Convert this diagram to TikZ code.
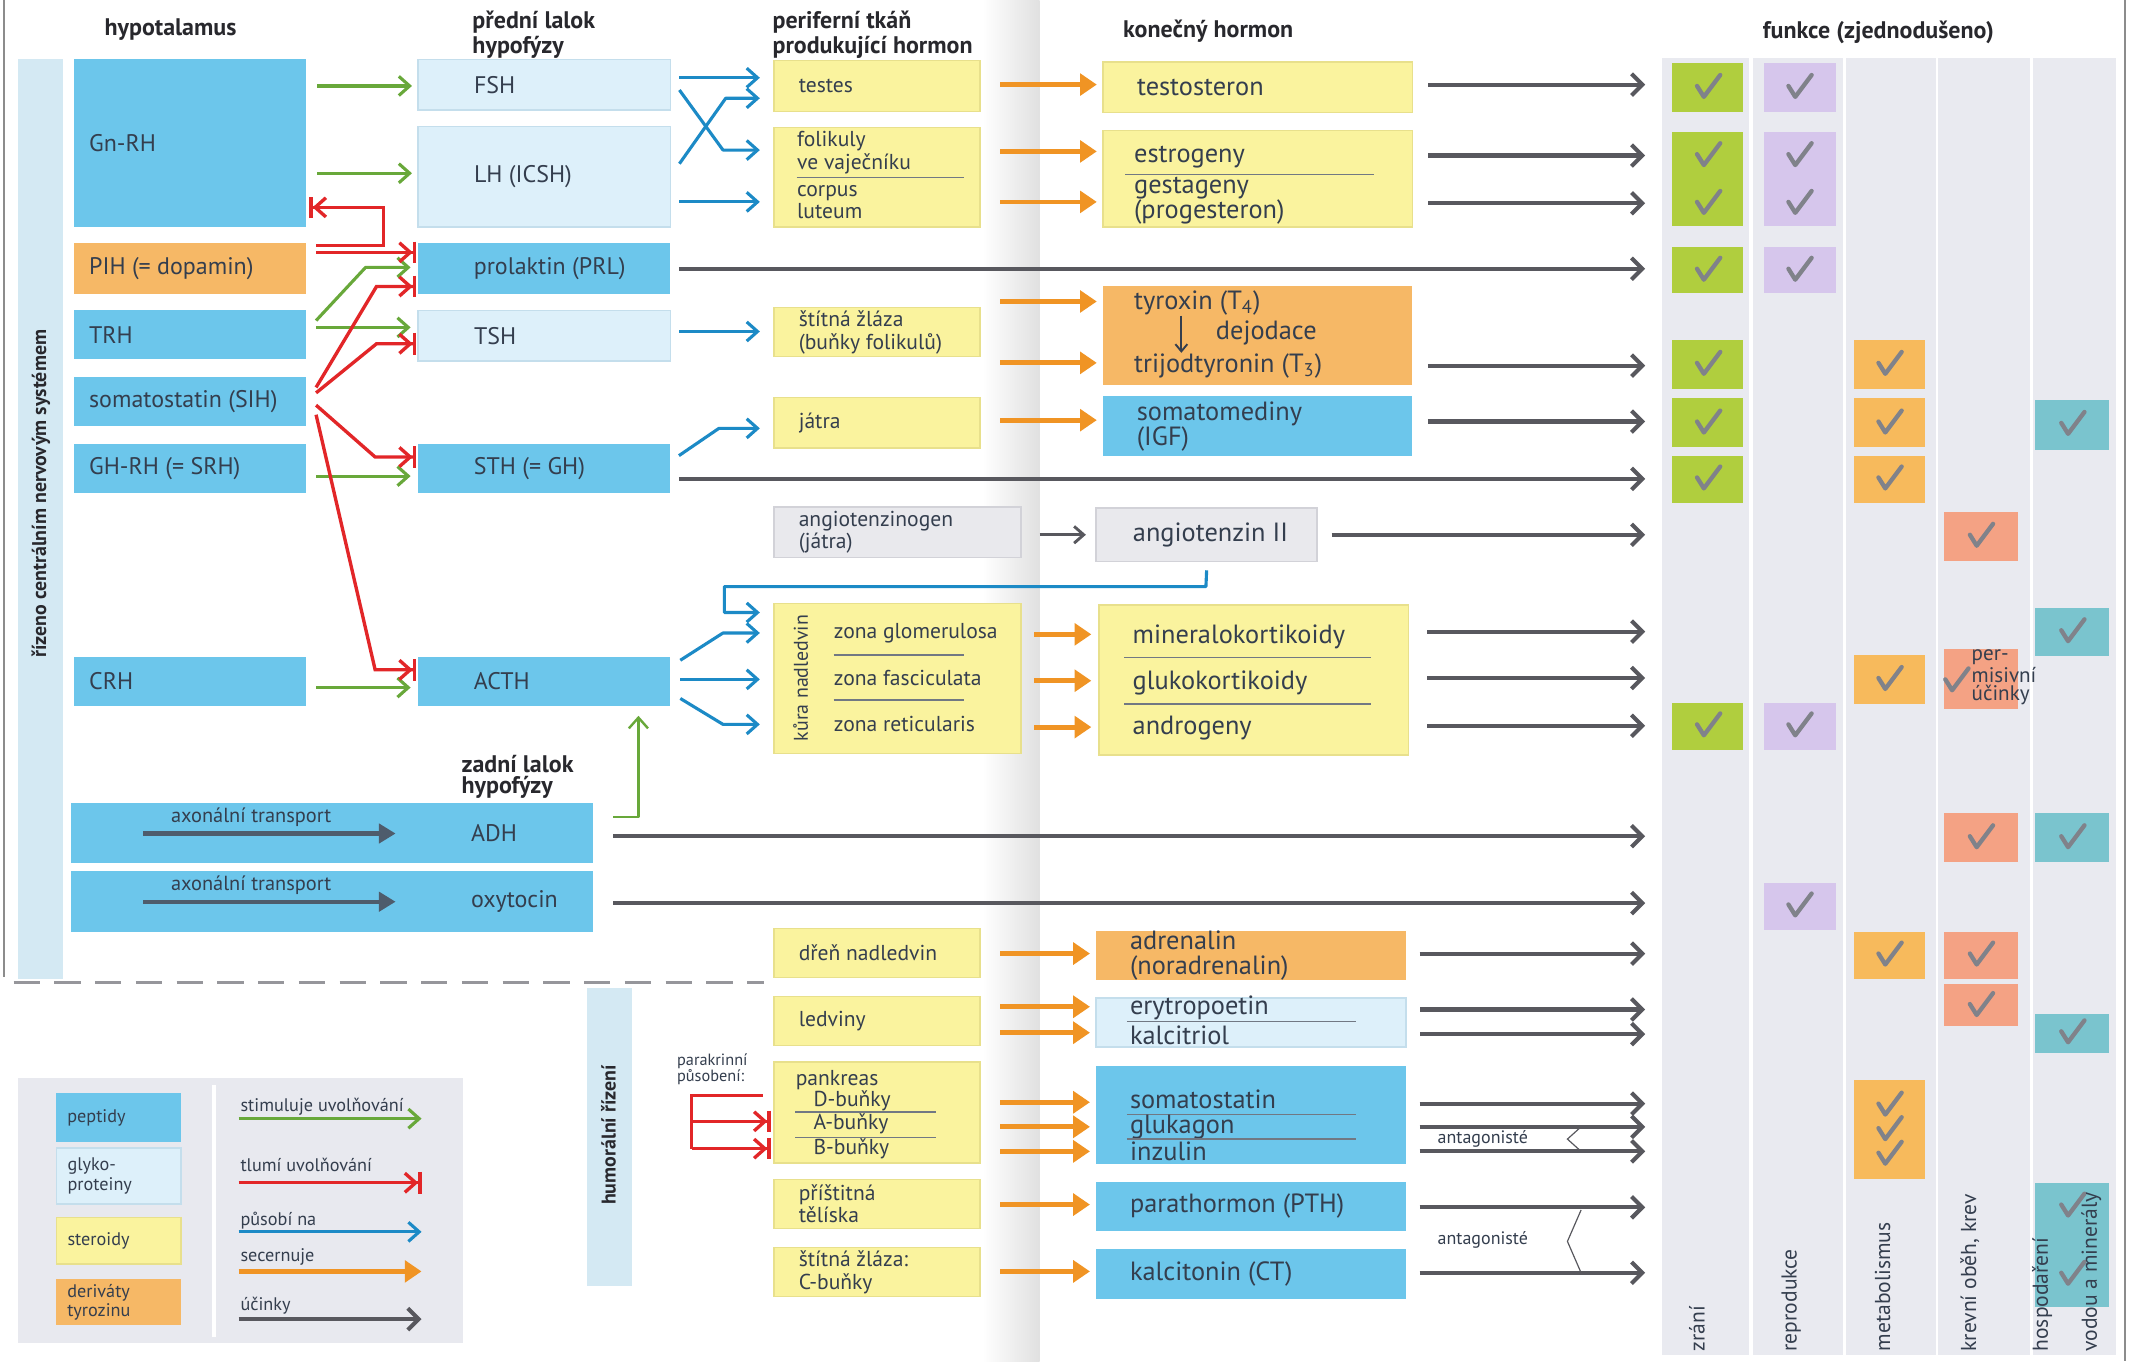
\documentclass[tikz,border=0pt]{standalone}
\usepackage{fontspec}
\setmainfont{PT Sans}
\usetikzlibrary{arrows.meta,calc}
\newlength\un
\setlength\un{0.02cm}
\definecolor{cPep}{RGB}{108,198,235}
\definecolor{cGly}{RGB}{221,240,250}
\definecolor{cGlyB}{RGB}{196,222,236}
\definecolor{cSte}{RGB}{250,243,158}
\definecolor{cSteB}{RGB}{232,224,140}
\definecolor{cTyr}{RGB}{246,184,102}
\definecolor{cGry}{RGB}{233,233,237}
\definecolor{cGryB}{RGB}{210,210,216}
\definecolor{cBand}{RGB}{212,233,243}
\definecolor{cLeg}{RGB}{232,233,239}
\definecolor{cCol}{RGB}{233,234,240}
\definecolor{cGrn}{RGB}{104,168,58}
\definecolor{cRed}{RGB}{226,38,40}
\definecolor{cBlu}{RGB}{28,138,198}
\definecolor{cOra}{RGB}{240,148,36}
\definecolor{cEff}{RGB}{88,88,94}
\definecolor{cAx}{RGB}{78,92,108}
\definecolor{cTxt}{RGB}{52,62,78}
\definecolor{cHdr}{RGB}{40,40,45}
\definecolor{cDash}{RGB}{150,150,155}
\definecolor{kGrn}{RGB}{176,206,62}
\definecolor{kPur}{RGB}{214,198,236}
\definecolor{kOra}{RGB}{247,186,92}
\definecolor{kSal}{RGB}{244,162,132}
\definecolor{kTea}{RGB}{122,196,206}
\definecolor{kChk}{RGB}{128,130,138}
\tikzset{
  bxbase/.style={rectangle, inner sep=0pt, text=cTxt},
  pep/.style={bxbase, fill=cPep},
  gly/.style={bxbase, fill=cGly, draw=cGlyB, line width=0.6pt},
  ste/.style={bxbase, fill=cSte, draw=cSteB, line width=0.6pt},
  tyr/.style={bxbase, fill=cTyr},
  gry/.style={bxbase, fill=cGry, draw=cGryB, line width=0.6pt},
  colbg/.style={rectangle, inner sep=0pt, fill=cCol},
  hf/.style={font=\fontsize{10}{11}\selectfont},
  pf/.style={font=\fontsize{9}{9.4}\selectfont, text=cTxt},
  ff/.style={font=\fontsize{11}{10.4}\selectfont, text=cTxt},
  lf/.style={font=\fontsize{7.6}{8}\selectfont, text=cTxt},
  colf/.style={font=\fontsize{9}{10}\selectfont, text=cTxt, inner sep=0pt, rotate=90, anchor=west},
  hdr/.style={font=\fontsize{10}{9}\selectfont\bfseries, text=cHdr, inner sep=0pt},
  bandtxt/.style={font=\fontsize{8.3}{9}\selectfont\bfseries, text=cHdr, inner sep=0pt, rotate=90},
  tx/.style={inner sep=0pt, anchor=west, align=left},
  sepl/.style={draw=cTxt!70, line width=0.6pt},
  stim/.style={draw=cGrn, line width=1.3pt, line join=round, -{Straight Barb[length=4.5pt,width=8pt]}},
  inh/.style={draw=cRed, line width=1.4pt, line join=miter, -{Straight Barb[length=4.5pt,width=8pt,sep=0pt]Bar[width=9pt,sep=0pt]}},
  redl/.style={draw=cRed, line width=1.4pt, line join=miter},
  act/.style={draw=cBlu, line width=1.3pt, line join=round, -{Straight Barb[length=4.5pt,width=8pt]}},
  sec/.style={draw=cOra, line width=2pt, -{Triangle[length=7pt,width=9pt]}},
  eff/.style={draw=cEff, line width=1.7pt, -{Straight Barb[length=4.5pt,width=9pt]}},
  gthin/.style={draw=cEff, line width=1.2pt, -{Straight Barb[length=4pt,width=7pt]}},
  axon/.style={draw=cAx, line width=1.8pt, -{Triangle[length=7pt,width=8pt]}},
  chkm/.style={draw=kChk, line width=1.8pt, line cap=round, line join=round},
}
\newcommand\bx[7]{\node[#1,anchor=north west,minimum width=#4\un,minimum height=#5\un,inner sep=0pt] (#2) at (#3) {\hspace*{#6\un}\parbox{\dimexpr#4\un-#6\un\relax}{\raggedright #7}};}
\newcommand\sq[5]{\fill[#1] (#2,#3) rectangle (#4,#5);}
\newcommand\chk[2]{\draw[chkm] (#1-8,#2-1) -- ++(5,8) -- ++(12,-16);}
\begin{document}
\begin{tikzpicture}[x=0.02cm,y=-0.02cm]
\useasboundingbox (0,0) rectangle (1568,998);
\fill[white] (0,0) rectangle (1568,998);
% gutter and page edges
\shade[left color=white, right color=black!12] (720,0) rectangle (762,998);
\draw[black!45, line width=0.6pt] (3,0) -- (3,716);
\draw[black!45, line width=0.8pt] (1558,0) -- (1558,998);
% function columns
\foreach \n/\x/\w in {cZ/1218/64, cR/1285/66, cM/1353/66, cK/1420/68, cH/1490/61}
  {\node[colbg, anchor=north west, minimum width=\w\un, minimum height=951\un] (\n) at (\x,42) {};}
% bands
\node[rectangle, fill=cBand, anchor=north west, minimum width=33\un, minimum height=674\un, inner sep=0pt] (bandC) at (13,43) {};
\node[bandtxt] (bandCt) at (30,362) {řízeno centrálním nervovým systémem};
\node[rectangle, fill=cBand, anchor=north west, minimum width=33\un, minimum height=218\un, inner sep=0pt] (bandH) at (430,724) {};
\node[bandtxt] (bandHt) at (446,832) {humorální řízení};
\draw[cDash, line width=1.2pt, dash pattern=on 11pt off 6pt] (10,720) -- (560,720);
% headers
\node[hdr] (hHyp) at (125,22) {hypotalamus};
\node[hdr, anchor=north west, align=left] (hPit) at (346,8) {přední lalok\\hypofýzy};
\node[hdr, anchor=north west, align=left] (hPer) at (566,8) {periferní tkáň\\produkující hormon};
\node[hdr, anchor=west] (hFin) at (823,23) {konečný hormon};
\node[hdr] (hFun) at (1377,24) {funkce (zjednodušeno)};
\node[hdr, anchor=north west, align=left] (hPost) at (338,553) {zadní lalok\\hypofýzy};
% hypothalamus
\bx{pep,hf}{gnrh}{54,43}{170}{123}{11}{Gn-RH}
\bx{tyr,hf}{pih}{54,178}{170}{37}{11}{PIH (= dopamin)}
\bx{pep,hf}{trh}{54,227}{170}{36}{11}{TRH}
\bx{pep,hf}{sih}{54,276}{170}{36}{11}{somatostatin (SIH)}
\bx{pep,hf}{ghrh}{54,325}{170}{36}{11}{GH-RH (= SRH)}
\bx{pep,hf}{crh}{54,481}{170}{36}{11}{CRH}
% pituitary
\bx{gly,hf}{fsh}{306,43}{185}{37}{41}{FSH}
\bx{gly,hf}{lh}{306,92}{185}{74}{41}{LH (ICSH)}
\bx{pep,hf}{prl}{306,178}{185}{37}{41}{prolaktin (PRL)}
\bx{gly,hf}{tsh}{306,227}{185}{37}{41}{TSH}
\bx{pep,hf}{sth}{306,325}{185}{36}{41}{STH (= GH)}
\bx{pep,hf}{acth}{306,481}{185}{36}{41}{ACTH}
\bx{pep,hf}{adh}{52,588}{382}{44}{293}{ADH}
\bx{pep,hf}{oxy}{52,638}{382}{45}{293}{oxytocin}
\node[lf, font=\fontsize{8.5}{9}\selectfont, anchor=west, inner sep=0pt] (axt1) at (125,599) {axonální transport};
\node[lf, font=\fontsize{8.5}{9}\selectfont, anchor=west, inner sep=0pt] (axt2) at (125,649) {axonální transport};
\coordinate (ax1a) at (105,611); \coordinate (ax1b) at (290,611);
\coordinate (ax2a) at (105,661); \coordinate (ax2b) at (290,661);
\draw[axon] (ax1a) -- (ax1b);
\draw[axon] (ax2a) -- (ax2b);
% peripheral tissues
\bx{ste,pf}{testes}{567,44}{151}{37}{18}{testes}
\node[ste, anchor=north west, minimum width=151\un, minimum height=73\un] (ovar) at (567,93) {};
\node[pf,tx] (folT) at (584,112) {folikuly\\ve vaječníku};
\draw[sepl] (584,130) -- (707,130);
\node[pf,tx] (corT) at (584,148) {corpus\\luteum};
\bx{ste,pf}{thy}{567,225}{151}{36}{18}{štítná žláza\\(buňky folikulů)}
\bx{ste,pf}{liver}{567,291}{151}{37}{18}{játra}
\bx{gry,pf}{agen}{567,371}{181}{37}{18}{angiotenzinogen\\(játra)}
\node[ste, anchor=north west, minimum width=181\un, minimum height=110\un] (kura) at (567,442) {};
\node[pf, rotate=90, inner sep=0pt, font=\fontsize{8.3}{9}\selectfont] (kuraT) at (587,497) {kůra nadledvin};
\node[pf,tx] (zg) at (611,464) {zona glomerulosa};
\draw[sepl] (611,480) -- (707,480);
\node[pf,tx] (zf) at (611,497) {zona fasciculata};
\draw[sepl] (611,513) -- (707,513);
\node[pf,tx] (zr) at (611,531) {zona reticularis};
\bx{ste,pf}{dren}{567,680}{151}{36}{18}{dřeň nadledvin}
\bx{ste,pf}{kid}{567,730}{151}{36}{18}{ledviny}
\node[ste, anchor=north west, minimum width=151\un, minimum height=74\un] (pank) at (567,778) {};
\node[pf,tx] (pkT) at (583,792) {pankreas};
\node[pf,tx] (pkD) at (596,807) {D-buňky};
\draw[sepl] (583,815) -- (686,815);
\node[pf,tx] (pkA) at (596,824) {A-buňky};
\draw[sepl] (583,834) -- (686,834);
\node[pf,tx] (pkB) at (596,842) {B-buňky};
\bx{ste,pf}{para}{567,864}{151}{36}{18}{příštitná\\tělíska}
\bx{ste,pf}{cthy}{567,914}{151}{36}{18}{štítná žláza:\\C-buňky}
\node[lf, anchor=north west, align=left, inner sep=0pt, font=\fontsize{6.8}{6.9}\selectfont] (parT) at (496,772) {parakrinní\\působení:};
% final hormones
\bx{ste,ff}{testo}{808,45}{227}{37}{25}{testosteron}
\node[ste, anchor=north west, minimum width=227\un, minimum height=71\un] (estr) at (808,95) {};
\node[ff,tx] (estT) at (831,115) {estrogeny};
\draw[sepl] (825,128) -- (1007,128);
\node[ff,tx] (gesT) at (831,147) {gestageny\\(progesteron)};
\node[tyr, anchor=north west, minimum width=227\un, minimum height=73\un] (thyr) at (808,209) {};
\node[ff,tx] (t4T) at (831,222) {tyroxin (T\textsubscript{4})};
\node[ff,tx] (dejT) at (891,244) {dejodace};
\node[ff,tx] (t3T) at (831,268) {trijodtyronin (T\textsubscript{3})};
\draw[draw=cTxt, line width=0.8pt, -{Straight Barb[length=3pt,width=5pt]}] (t4T.south west -| 866,0) -- (t3T.north west -| 866,0);
\bx{pep,ff}{igf}{808,290}{227}{44}{25}{somatomediny\\(IGF)}
\bx{gry,ff}{ang}{803,372}{162}{39}{27}{angiotenzin II}
\node[ste, anchor=north west, minimum width=227\un, minimum height=110\un] (cort) at (805,443) {};
\node[ff,tx] (mkT) at (830,467) {mineralokortikoidy};
\draw[sepl] (824,482) -- (1005,482);
\node[ff,tx] (gkT) at (830,501) {glukokortikoidy};
\draw[sepl] (824,516) -- (1005,516);
\node[ff,tx] (anT) at (830,534) {androgeny};
\bx{tyr,ff}{adr}{803,682}{227}{36}{25}{adrenalin\\(noradrenalin)}
\node[gly, anchor=north west, minimum width=227\un, minimum height=36\un] (ery) at (803,731) {};
\node[ff,tx] (eryT) at (828,739) {erytropoetin};
\draw[sepl] (826,749) -- (994,749);
\node[ff,tx] (kalT) at (828,759) {kalcitriol};
\node[pep, anchor=north west, minimum width=227\un, minimum height=72\un] (pan2) at (803,781) {};
\node[ff,tx] (soT) at (828,806) {somatostatin};
\draw[sepl] (826,817) -- (994,817);
\node[ff,tx] (glT) at (828,826) {glukagon};
\draw[sepl] (826,835) -- (994,835);
\node[ff,tx] (inT) at (828,844) {inzulin};
\bx{pep,ff}{pth}{803,866}{227}{36}{25}{parathormon (PTH)}
\bx{pep,ff}{ct}{803,915}{227}{37}{25}{kalcitonin (CT)}
% hypothalamus -> pituitary
\draw[stim] ($(gnrh.east|-0,63)+(8,0)$) -- ($(fsh.west|-0,63)+(-4,0)$);
\draw[stim] ($(gnrh.east|-0,127)+(8,0)$) -- ($(lh.west|-0,127)+(-4,0)$);
\draw[stim] ($(trh.east|-0,235)+(7,0)$) -- (268,196) -- ($(prl.west|-0,196)+(-5,0)$);
\draw[stim] ($(trh.east|-0,240)+(7,0)$) -- ($(tsh.west|-0,240)+(-5,0)$);
\draw[stim] ($(ghrh.east|-0,349)+(7,0)$) -- ($(sth.west|-0,349)+(-5,0)$);
\draw[stim] ($(crh.east|-0,504)+(7,0)$) -- ($(acth.west|-0,504)+(-5,0)$);
\draw[stim, line width=1pt] ($(adh.east|-0,599)+(15,0)$) -- (468,599) -- ($(acth.south-|468,0)+(0,7)$);
\draw[inh] ($(pih.east|-0,180)+(7,0)$) -- (281,180) -- (281,152) -- ($(gnrh.east|-0,152)+(2,0)$);
\draw[inh] ($(pih.east|-0,185)+(7,0)$) -- ($(prl.west|-0,185)+(-1,0)$);
\draw[inh] ($(sih.east|-0,284)+(7,0)$) -- (276,210) -- ($(prl.west|-0,210)+(-1,0)$);
\draw[inh] ($(sih.east|-0,288)+(7,0)$) -- (276,252) -- ($(tsh.west|-0,252)+(-1,0)$);
\draw[inh] ($(sih.east|-0,297)+(7,0)$) -- (275,335) -- ($(sth.west|-0,335)+(-1,0)$);
\draw[inh] ($(sih.east|-0,304)+(7,0)$) -- (275,491) -- ($(acth.west|-0,491)+(-1,0)$);
% pituitary -> tissues
\draw[act] ($(fsh.east|-0,57)+(6,0)$) -- ($(testes.west|-0,57)+(-10,0)$);
\draw[act] ($(fsh.east|-0,66)+(6,0)$) -- (530,110) -- ($(ovar.west|-0,110)+(-10,0)$);
\draw[act] ($(lh.east|-0,120)+(6,0)$) -- (532,72) -- ($(testes.west|-0,72)+(-10,0)$);
\draw[act] ($(lh.east|-0,148)+(6,0)$) -- ($(ovar.west|-0,148)+(-10,0)$);
\draw[act] ($(tsh.east|-0,243)+(6,0)$) -- ($(thy.west|-0,243)+(-10,0)$);
\draw[act] ($(sth.east|-0,334)+(6,0)$) -- (527,314) -- ($(liver.west|-0,314)+(-10,0)$);
\draw[act] ($(acth.east|-0,484)+(7,0)$) -- (530,464) -- ($(kura.west|-0,464)+(-10,0)$);
\draw[act] ($(acth.east|-0,498)+(7,0)$) -- ($(kura.west|-0,498)+(-10,0)$);
\draw[act] ($(acth.east|-0,512)+(7,0)$) -- (530,531) -- ($(kura.west|-0,531)+(-10,0)$);
\draw[act] ($(ang.south)+(0,6)$) -- (884,430) -- (531,430) -- (531,449) -- ($(kura.west|-0,449)+(-10,0)$);
% secretion
\foreach \a/\b/\y in {testes/testo/62, ovar/estr/111, ovar/estr/148, thy/thyr/221, thy/thyr/266, liver/igf/308, dren/adr/699, kid/ery/738, kid/ery/757, pank/pan2/808, pank/pan2/826, pank/pan2/844, para/pth/883, cthy/ct/932}
  {\draw[sec] ($(\a.east|-0,\y)+(14,0)$) -- ($(\b.west|-0,\y)+(-4,0)$);}
\foreach \y in {465,499,533}
  {\draw[sec] ($(kura.east|-0,\y)+(9,0)$) -- ($(cort.west|-0,\y)+(-5,0)$);}
\draw[gthin] ($(agen.east|-0,392)+(13,0)$) -- ($(ang.west|-0,392)+(-7,0)$);
% paracrine
\draw[redl] ($(pank.west|-0,803)+(-8,0)$) -- (507,803) -- (507,842);
\draw[inh] (507,822) -- ($(pank.west|-0,822)+(-2,0)$);
\draw[inh] (507,842) -- ($(pank.west|-0,842)+(-2,0)$);
% effects
\foreach \n/\y/\o in {testo/62/11, estr/114/11, estr/149/11, prl/197/6, thyr/268/11, igf/309/11, sth/351/6, ang/392/10, cort/463/13, cort/497/13, cort/532/13, adh/613/15, oxy/662/15, adr/699/10, ery/740/10, ery/758/10, pan2/809/10, pan2/826/10, pan2/844/10, pth/885/10, ct/933/10}
  {\draw[eff] ($(\n.east|-0,\y)+(\o,0)$) -- ($(cZ.west|-0,\y)+(-12,0)$);}
\node[lf, font=\fontsize{7.5}{8}\selectfont, inner sep=0pt] (ant1) at (1087,835) {antagonisté};
\node[lf, font=\fontsize{7.5}{8}\selectfont, inner sep=0pt] (ant2) at (1087,909) {antagonisté};
\draw[cEff, line width=0.5pt] (1159,826) -- (1149,835) -- (1159,844);
\draw[cEff, line width=0.5pt] (1159,887) -- (1149,910) -- (1159,933);
% function squares
\sq{kGrn}{1226}{46}{1278}{82} \sq{kPur}{1293}{46}{1346}{82}
\sq{kGrn}{1226}{97}{1278}{166} \sq{kPur}{1293}{97}{1346}{166}
\sq{kGrn}{1226}{181}{1278}{215} \sq{kPur}{1293}{181}{1346}{215}
\sq{kGrn}{1226}{249}{1278}{285} \sq{kOra}{1359}{249}{1411}{285}
\sq{kGrn}{1226}{292}{1278}{328} \sq{kOra}{1359}{292}{1411}{328} \sq{kTea}{1492}{293}{1546}{330}
\sq{kGrn}{1226}{334}{1278}{369} \sq{kOra}{1359}{334}{1411}{369}
\sq{kSal}{1425}{375}{1479}{411}
\sq{kTea}{1492}{446}{1546}{481}
\sq{kOra}{1359}{480}{1411}{516} \sq{kSal}{1425}{476}{1479}{520}
\sq{kGrn}{1226}{515}{1278}{550} \sq{kPur}{1293}{515}{1346}{550}
\sq{kSal}{1425}{596}{1479}{632} \sq{kTea}{1492}{596}{1546}{632}
\sq{kPur}{1293}{647}{1346}{682}
\sq{kOra}{1359}{683}{1411}{718} \sq{kSal}{1425}{683}{1479}{718}
\sq{kSal}{1425}{721}{1479}{752}
\sq{kTea}{1492}{743}{1546}{772}
\sq{kOra}{1359}{792}{1411}{864}
\sq{kTea}{1492}{867}{1546}{958}
\chk{1252}{64} \chk{1319}{64}
\chk{1252}{114} \chk{1252}{149} \chk{1319}{114} \chk{1319}{149}
\chk{1252}{198} \chk{1319}{198}
\chk{1252}{267} \chk{1385}{267}
\chk{1252}{310} \chk{1385}{310} \chk{1519}{311}
\chk{1252}{351} \chk{1385}{351}
\chk{1452}{393}
\chk{1519}{463}
\chk{1385}{498} \chk{1434}{499}
\chk{1252}{532} \chk{1319}{532}
\chk{1452}{614} \chk{1519}{614}
\chk{1319}{664}
\chk{1385}{700} \chk{1452}{700}
\chk{1452}{737}
\chk{1519}{757}
\chk{1385}{810} \chk{1385}{828} \chk{1385}{846}
\chk{1519}{884} \chk{1519}{934}
\node[anchor=north west, align=left, inner sep=0pt, font=\fontsize{8.8}{7.4}\selectfont, text=cTxt] (perm) at (1445,476) {per-\\misivní\\účinky};
\node[colf] (lZ) at (1244,991) {zrání};
\node[colf] (lR) at (1313,991) {reprodukce};
\node[colf] (lM) at (1380,991) {metabolismus};
\node[colf] (lK) at (1444,991) {krevní oběh, krev};
\node[colf] (lH1) at (1497,991) {hospodaření};
\node[colf] (lH2) at (1533,991) {vodou a minerály};
% legend
\node[rectangle, fill=cLeg, anchor=north west, minimum width=326\un, minimum height=194\un, inner sep=0pt] (leg) at (13,790) {};
\draw[white, line width=1.5pt] (157,795) -- (157,980);
\bx{pep,lf}{lPep}{41,801}{91}{36}{8}{peptidy}
\bx{gly,lf}{lGly}{41,841}{91}{41}{8}{glyko-\\proteiny}
\bx{ste,lf}{lSte}{41,892}{91}{34}{8}{steroidy}
\bx{tyr,lf}{lTyr}{41,937}{91}{34}{8}{deriváty\\tyrozinu}
\node[lf, anchor=base west, inner sep=0pt] (lg1t) at (176,815) {stimuluje uvolňování};
\node[lf, anchor=base west, inner sep=0pt] (lg2t) at (176,859) {tlumí uvolňování};
\node[lf, anchor=base west, inner sep=0pt] (lg3t) at (176,898) {působí na};
\node[lf, anchor=base west, inner sep=0pt] (lg4t) at (176,925) {secernuje};
\node[lf, anchor=base west, inner sep=0pt] (lg5t) at (176,961) {účinky};
\coordinate (lg1a) at (175,820); \coordinate (lg1b) at (309,820);
\coordinate (lg2a) at (175,867); \coordinate (lg2b) at (309,867);
\coordinate (lg3a) at (175,903); \coordinate (lg3b) at (309,903);
\coordinate (lg4a) at (175,932); \coordinate (lg4b) at (309,932);
\coordinate (lg5a) at (175,967); \coordinate (lg5b) at (309,967);
\draw[stim] (lg1a) -- (lg1b);
\draw[inh] (lg2a) -- (lg2b);
\draw[act] (lg3a) -- (lg3b);
\draw[sec] (lg4a) -- (lg4b);
\draw[eff] (lg5a) -- (lg5b);
\end{tikzpicture}
\end{document}
